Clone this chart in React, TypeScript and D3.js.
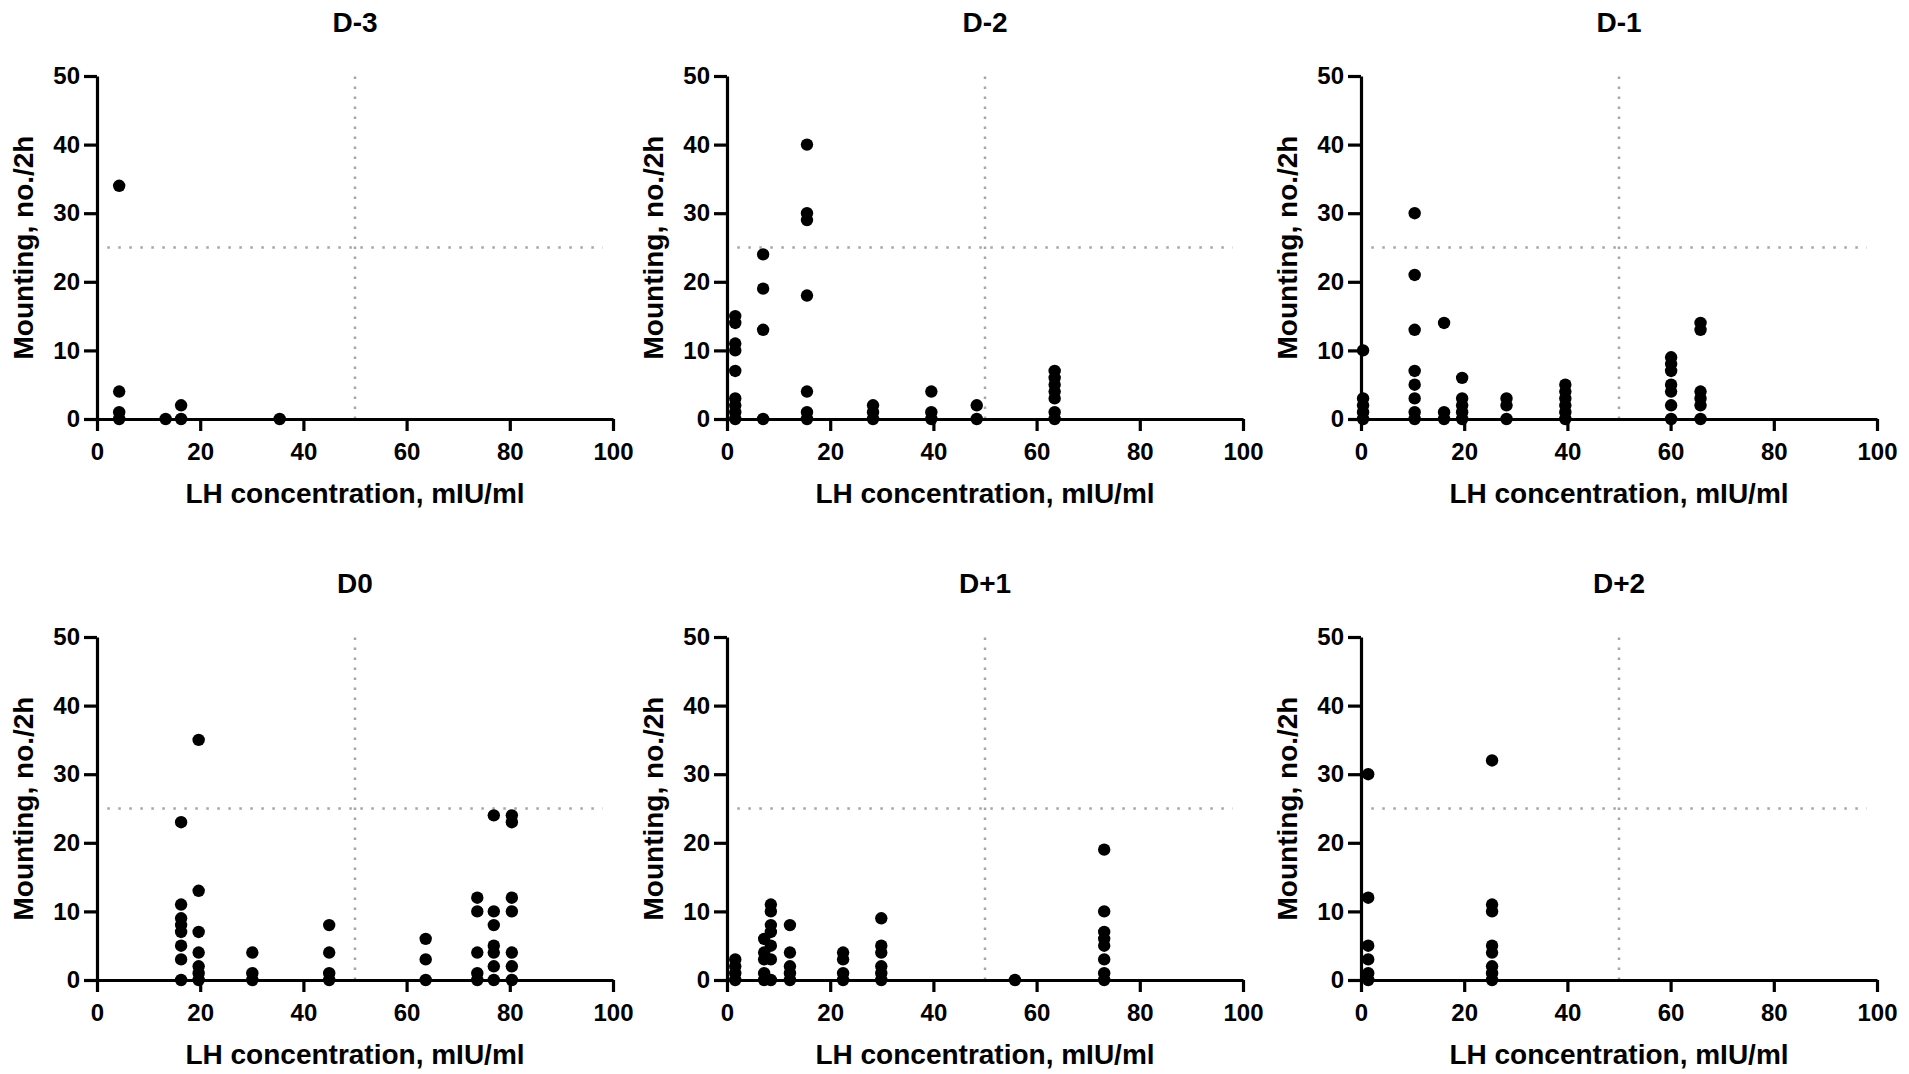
import React, { useRef, useEffect } from 'react';
import * as d3 from 'd3';

// LH concentration (x) with the mounting counts recorded at that concentration
interface Column { lh: number; mounts: number[] }

const dayMinus3: Column[] = [
  { lh: 4.3, mounts: [34, 4, 1, 0] },
  { lh: 13.3, mounts: [0] },
  { lh: 16.3, mounts: [2, 0] },
  { lh: 35.4, mounts: [0] },
];

const dayMinus2: Column[] = [
  { lh: 1.6, mounts: [15, 14, 11, 10, 7, 3, 2, 1, 0] },
  { lh: 7.0, mounts: [24, 19, 13, 0] },
  { lh: 15.5, mounts: [40, 30, 29, 18, 4, 1, 0] },
  { lh: 28.3, mounts: [2, 1, 0] },
  { lh: 39.6, mounts: [4, 1, 0] },
  { lh: 48.4, mounts: [2, 0] },
  { lh: 63.5, mounts: [7, 6, 5, 4, 3, 1, 0] },
];

const dayMinus1: Column[] = [
  { lh: 0.4, mounts: [10, 3, 2, 1, 0] },
  { lh: 10.4, mounts: [30, 21, 13, 7, 5, 3, 1, 0] },
  { lh: 16.1, mounts: [14, 1, 0] },
  { lh: 19.6, mounts: [6, 3, 2, 1, 0] },
  { lh: 28.2, mounts: [3, 2, 0] },
  { lh: 39.6, mounts: [5, 4, 3, 2, 1, 0] },
  { lh: 60.1, mounts: [9, 8, 7, 5, 4, 2, 0] },
  { lh: 65.8, mounts: [14, 13, 4, 3, 2, 0] },
];

const day0: Column[] = [
  { lh: 16.3, mounts: [23, 11, 9, 8, 7, 5, 3, 0] },
  { lh: 19.7, mounts: [35, 13, 7, 4, 2, 1, 0] },
  { lh: 30.1, mounts: [4, 1, 0] },
  { lh: 45.0, mounts: [8, 4, 1, 0] },
  { lh: 63.7, mounts: [6, 3, 0] },
  { lh: 73.7, mounts: [12, 10, 4, 1, 0] },
  { lh: 76.9, mounts: [24, 10, 8, 5, 4, 2, 0] },
  { lh: 80.4, mounts: [24, 23, 12, 10, 4, 2, 0] },
];

const dayPlus1: Column[] = [
  { lh: 1.6, mounts: [3, 2, 1, 0] },
  { lh: 7.2, mounts: [6, 4, 3, 1, 0] },
  { lh: 8.5, mounts: [11, 10, 8, 7, 5, 3, 0] },
  { lh: 12.2, mounts: [8, 4, 2, 1, 0] },
  { lh: 22.5, mounts: [4, 3, 1, 0] },
  { lh: 29.9, mounts: [9, 5, 4, 2, 1, 0] },
  { lh: 55.8, mounts: [0] },
  { lh: 73.1, mounts: [19, 10, 7, 6, 5, 3, 1, 0] },
];

const dayPlus2: Column[] = [
  { lh: 1.4, mounts: [30, 12, 5, 3, 1, 0] },
  { lh: 25.4, mounts: [32, 11, 10, 5, 4, 2, 1, 0] },
];

const panelTitles = ['D-3', 'D-2', 'D-1', 'D0', 'D+1', 'D+2'];
const panelData = [dayMinus3, dayMinus2, dayMinus1, day0, dayPlus1, dayPlus2];
const xTicks = [0, 20, 40, 60, 80, 100];
const yTicks = [0, 10, 20, 30, 40, 50];
const xThreshold = 50;
const yThreshold = 25;

const W = 1909;
const H = 1074;
const FONT = '"Liberation Sans", Arial, sans-serif';

export default function App() {
  const ref = useRef<SVGSVGElement>(null);

  useEffect(() => {
    if (!ref.current) return;
    const svg = d3.select(ref.current);
    svg.selectAll('*').remove();

    const colLeft = [97, 727, 1361];
    const rowTop = [76, 637];
    const pw = 516;
    const ph = 343;

    panelData.forEach((cols, i) => {
      const left = colLeft[i % 3];
      const top = rowTop[Math.floor(i / 3)];
      const g = svg.append('g').attr('transform', `translate(${left},${top})`);

      const x = d3.scaleLinear().domain([0, 100]).range([0, pw]);
      const y = d3.scaleLinear().domain([0, 50]).range([ph, 0]);

      // dotted threshold lines
      g.append('line')
        .attr('x1', x(xThreshold)).attr('x2', x(xThreshold))
        .attr('y1', y(0)).attr('y2', y(50))
        .attr('stroke', '#a6a6a6').attr('stroke-width', 2.5)
        .attr('stroke-dasharray', '2.5,7.5');
      g.append('line')
        .attr('x1', x(2)).attr('x2', x(98))
        .attr('y1', y(yThreshold)).attr('y2', y(yThreshold))
        .attr('stroke', '#a6a6a6').attr('stroke-width', 2.5)
        .attr('stroke-dasharray', '2.5,8.5');

      // axes
      const xAxis = g.append('g')
        .attr('transform', `translate(0,${ph})`)
        .call(d3.axisBottom(x).tickValues(xTicks).tickSize(12).tickSizeOuter(0).tickPadding(12));
      const yAxis = g.append('g')
        .call(d3.axisLeft(y).tickValues(yTicks).tickSize(13).tickSizeOuter(0).tickPadding(4));

      [xAxis, yAxis].forEach(a => {
        a.select('.domain').attr('stroke', '#000').attr('stroke-width', 3.2);
        a.selectAll('.tick line').attr('stroke', '#000').attr('stroke-width', 3.2);
        a.selectAll('.tick text')
          .attr('fill', '#000')
          .style('font-family', FONT)
          .style('font-weight', 'bold')
          .style('font-size', '24px');
      });

      // points
      const pts = cols.flatMap(c => c.mounts.map(m => ({ lh: c.lh, m })));
      g.selectAll('circle.pt')
        .data(pts)
        .enter()
        .append('circle')
        .attr('class', 'pt')
        .attr('cx', d => x(d.lh))
        .attr('cy', d => y(d.m))
        .attr('r', 6.2)
        .attr('fill', '#000');

      // title
      g.append('text')
        .attr('x', pw / 2).attr('y', -44)
        .attr('text-anchor', 'middle')
        .style('font-family', FONT).style('font-weight', 'bold').style('font-size', '28px')
        .text(panelTitles[i]);

      // x label
      g.append('text')
        .attr('x', pw / 2).attr('y', ph + 84)
        .attr('text-anchor', 'middle')
        .style('font-family', FONT).style('font-weight', 'bold').style('font-size', '28px')
        .text('LH concentration, mIU/ml');

      // y label
      g.append('text')
        .attr('transform', `translate(-64,${ph / 2}) rotate(-90)`)
        .attr('text-anchor', 'middle')
        .style('font-family', FONT).style('font-weight', 'bold').style('font-size', '28px')
        .text('Mounting, no./2h');
    });
  }, []);

  return (
    <div style={{ position: 'absolute', left: 0, top: 0, width: W, height: H, background: '#fff' }}>
      <svg ref={ref} width={W} height={H} viewBox={`0 0 ${W} ${H}`} />
    </div>
  );
}
